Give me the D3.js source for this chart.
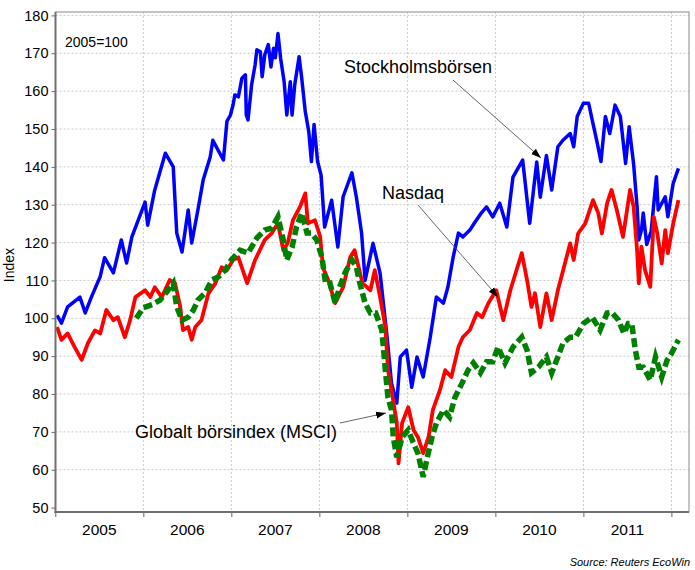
<!DOCTYPE html>
<html><head><meta charset="utf-8">
<script src="https://cdn.jsdelivr.net/npm/d3@7"></script>
<style>body{margin:0;background:#fff}svg{display:block;font-family:"Liberation Sans",Arial,sans-serif}</style>
</head><body><svg id="c" width="695" height="570"></svg>
<script>
// Decimal-year dates and index values (2005=100)
const stockT = [2005.02,2005.07,2005.14,2005.28,2005.34,2005.41,2005.51,2005.56,2005.66,2005.75,2005.81,2005.87,2006.02,2006.05,2006.13,2006.25,2006.34,2006.38,2006.44,2006.51,2006.55,2006.62,2006.68,2006.76,2006.79,2006.91,2006.95,2006.99,2007.02,2007.04,2007.08,2007.12,2007.16,2007.17,2007.19,2007.23,2007.27,2007.29,2007.33,2007.35,2007.38,2007.42,2007.45,2007.48,2007.50,2007.53,2007.56,2007.60,2007.63,2007.67,2007.69,2007.72,2007.77,2007.80,2007.84,2007.88,2007.91,2007.94,2007.98,2008.02,2008.06,2008.14,2008.21,2008.27,2008.37,2008.42,2008.48,2008.52,2008.61,2008.69,2008.77,2008.82,2008.88,2008.92,2008.99,2009.05,2009.11,2009.18,2009.26,2009.33,2009.41,2009.46,2009.52,2009.58,2009.63,2009.71,2009.76,2009.83,2009.90,2009.97,2010.05,2010.13,2010.20,2010.31,2010.39,2010.47,2010.51,2010.58,2010.64,2010.71,2010.77,2010.85,2010.89,2010.93,2011.00,2011.06,2011.10,2011.15,2011.20,2011.25,2011.30,2011.36,2011.42,2011.48,2011.52,2011.57,2011.61,2011.63,2011.66,2011.68,2011.72,2011.77,2011.83,2011.85,2011.93,2011.96,2012.02,2012.08];
const stockV = [100.8,98.7,103,105.6,101.4,105.6,111,116,112,120.7,114.6,121.5,130.7,124.6,133.9,143.6,140,122.5,117.5,128.6,119.9,128.6,136.5,142.6,147,141.8,152,153.7,156.4,159,158.5,163.4,164.3,153.7,152.4,161.6,166.9,170.9,170.4,163.8,169.6,172.3,166.4,171.3,168.8,175.2,168.7,162.5,153.7,162.5,153.7,161.6,169.1,163.4,154.6,149.3,141.4,151.2,141.4,137.8,124.1,131.2,118.8,132.1,138.4,132.1,122.5,110,119.8,111.9,95,82.8,77.6,89.8,91.6,81.8,89.8,84.5,95,105.6,104,108.2,116.1,122.5,121.5,123.3,125.1,127.5,129.4,126.8,130.4,124.1,137.3,141.8,125.1,141.3,132,143,133.9,145.3,147.1,148.8,145.3,153.3,156.8,156.8,152.4,147.1,141.4,153.3,148.8,156.3,153.3,140.9,150.6,140.9,129.5,120.7,123.3,127.8,119.5,123,137.4,128.6,132.1,126.8,135.6,139.6];

const nasdaqT = [2005.02,2005.07,2005.14,2005.22,2005.30,2005.37,2005.45,2005.51,2005.58,2005.66,2005.71,2005.79,2005.85,2005.91,2006.02,2006.08,2006.13,2006.21,2006.30,2006.36,2006.42,2006.45,2006.51,2006.55,2006.59,2006.66,2006.74,2006.82,2006.89,2006.95,2007.02,2007.08,2007.18,2007.27,2007.38,2007.46,2007.53,2007.59,2007.64,2007.70,2007.78,2007.84,2007.87,2007.95,2008.01,2008.04,2008.10,2008.18,2008.27,2008.35,2008.40,2008.49,2008.58,2008.63,2008.69,2008.75,2008.78,2008.82,2008.88,2008.90,2008.94,2009.01,2009.07,2009.12,2009.18,2009.24,2009.29,2009.37,2009.43,2009.50,2009.58,2009.63,2009.71,2009.79,2009.85,2009.92,2010.01,2010.09,2010.17,2010.24,2010.30,2010.36,2010.41,2010.45,2010.51,2010.58,2010.64,2010.71,2010.77,2010.85,2010.89,2010.94,2011.02,2011.11,2011.17,2011.21,2011.27,2011.32,2011.38,2011.45,2011.53,2011.57,2011.61,2011.63,2011.66,2011.70,2011.76,2011.80,2011.84,2011.89,2011.93,2011.96,2012.02,2012.08];
const nasdaqV = [97.7,94.3,96,92.4,89,93.4,96.8,96,102.2,99.5,100.3,95,99.5,105.6,107.4,105.6,108.2,105.6,110.1,109.3,103,96.9,97.7,94.3,97.7,99.5,106.6,109.3,113.5,112.7,115.4,116.1,109.3,115.4,120.7,122.5,125.1,118,119.8,125.9,129.4,133,125.1,125.9,121.5,113.5,110.1,104,108.2,116.1,118,109.3,107.4,112.7,105.6,97.7,86.3,81,72.3,61.7,72.3,76.5,70.5,68.6,64.4,68.6,75.8,81,86.3,84.5,92.4,95,96.9,101.4,100.3,104,107.4,99.5,107.4,112.7,117.2,110.1,103,106.6,97.7,106.6,99.5,107.4,112.7,119.8,115.4,122.4,125,131.2,127.7,122.4,130.4,133.9,128.6,121.5,133.9,129.5,118,109.2,118.9,112.8,108.3,126.8,122.4,114.5,123.3,117.2,125,131.2];

const msciT = [2005.92,2006.00,2006.10,2006.19,2006.28,2006.34,2006.38,2006.44,2006.51,2006.57,2006.62,2006.70,2006.78,2006.85,2006.93,2007.00,2007.10,2007.19,2007.29,2007.38,2007.46,2007.53,2007.59,2007.63,2007.69,2007.74,2007.80,2007.86,2007.91,2007.97,2008.03,2008.07,2008.12,2008.18,2008.23,2008.29,2008.37,2008.42,2008.46,2008.52,2008.58,2008.64,2008.71,2008.73,2008.75,2008.78,2008.82,2008.84,2008.88,2008.94,2009.01,2009.07,2009.12,2009.18,2009.22,2009.28,2009.33,2009.41,2009.48,2009.54,2009.62,2009.69,2009.75,2009.83,2009.90,2009.97,2010.03,2010.11,2010.20,2010.30,2010.36,2010.41,2010.49,2010.58,2010.64,2010.71,2010.77,2010.85,2010.91,2011.00,2011.10,2011.19,2011.27,2011.32,2011.40,2011.46,2011.51,2011.55,2011.59,2011.63,2011.68,2011.76,2011.82,2011.89,2011.95,2012.00,2012.08];
const msciV = [100,102.8,103.6,104.8,107.4,109.3,103,99.5,100.3,102.2,104.8,106.6,110.1,110.9,112.7,115.4,118,117.2,121.2,123.3,123.8,126.8,120.7,115.4,118.8,124.1,127.8,122.5,122.5,120.7,116.1,109.3,109.3,104,108.2,111.9,115.4,113.5,109.3,104,101.4,101.4,96.9,91.6,86.3,79.1,75.8,68.6,63.3,68.6,70.5,67,64.4,58.1,62.6,68.6,72.3,75.8,73.9,79.1,82.8,86.3,88.2,85.6,88.5,88.5,92.4,88.2,92.4,95,91.6,85.6,87.1,89.8,85.6,89.8,93.5,95,95,98.6,100.3,96.9,101.4,101.6,99.5,96,98.6,98.6,91.6,87.1,87.1,83.7,89.8,84.5,88.9,90.7,94.3];

const yearStarts = [2005,2006,2007,2008,2009,2010,2011,2012];
const yearLabels = ["2005","2006","2007","2008","2009","2010","2011"];
const yTicks = [50,60,70,80,90,100,110,120,130,140,150,160,170,180];

const svg = d3.select("#c");
const L = 55.5, R = 689, T = 12, B = 512;
const x = d3.scaleLinear().domain([2005, 2012.2]).range([55.3, 689]);
const y = d3.scaleLinear().domain([50, 180]).range([507.6, 15.4]);

// grid
const g = svg.append("g");
g.selectAll(".gy").data(yTicks.filter(v => v > 50)).join("line")
  .attr("x1", L).attr("x2", R).attr("y1", d => y(d)).attr("y2", d => y(d))
  .attr("stroke", "#c8c8c8").attr("stroke-dasharray", "2,2").attr("stroke-width", 1);
g.selectAll(".gx").data(yearStarts.slice(1)).join("line")
  .attr("x1", d => x(d)).attr("x2", d => x(d)).attr("y1", T).attr("y2", B)
  .attr("stroke", "#c8c8c8").attr("stroke-dasharray", "2,2").attr("stroke-width", 1);

// frame
svg.append("rect").attr("x", L).attr("y", T).attr("width", R - L).attr("height", B - T)
  .attr("fill", "none").attr("stroke", "#8a8a8a").attr("stroke-width", 1);

svg.append("clipPath").attr("id", "clip").append("rect")
  .attr("x", L).attr("y", T).attr("width", R - L).attr("height", B - T);

const line = d3.line().x(d => x(d[0])).y(d => y(d[1]));
const plot = svg.append("g").attr("clip-path", "url(#clip)");
plot.append("path").datum(d3.zip(stockT, stockV)).attr("d", line)
  .attr("fill", "none").attr("stroke", "#0000ff").attr("stroke-width", 3.5).attr("stroke-linejoin", "round");
plot.append("path").datum(d3.zip(nasdaqT, nasdaqV)).attr("d", line)
  .attr("fill", "none").attr("stroke", "#ff0000").attr("stroke-width", 3.8).attr("stroke-linejoin", "round");
plot.append("path").datum(d3.zip(msciT, msciV)).attr("d", line)
  .attr("fill", "none").attr("stroke", "#008000").attr("stroke-width", 5.5).attr("stroke-dasharray", "9,4");

// axes
const ax = svg.append("g").attr("transform", `translate(${L},0)`)
  .call(d3.axisLeft(y).tickValues(yTicks).tickSize(4).tickPadding(3).tickFormat(d3.format("d")));
ax.select(".domain").remove();
ax.selectAll("line").attr("stroke", "#666").attr("x2", -4);
ax.selectAll("text").attr("font-size", "14.5px").attr("fill", "#000")
  .attr("font-family", "Liberation Sans, Arial, sans-serif");

const bx = svg.append("g").attr("transform", `translate(0,${B})`)
  .call(d3.axisBottom(x).tickValues(yearStarts).tickSize(5).tickFormat(""));
bx.select(".domain").remove();
bx.selectAll("line").attr("stroke", "#666");

svg.append("line").attr("x1", L).attr("x2", L).attr("y1", T).attr("y2", B + 1)
  .attr("stroke", "#707070").attr("stroke-width", 2);
svg.append("line").attr("x1", L - 1).attr("x2", R).attr("y1", B).attr("y2", B)
  .attr("stroke", "#707070").attr("stroke-width", 2);

svg.selectAll(".yl").data(yearLabels).join("text")
  .attr("x", (d, i) => (x(yearStarts[i]) + x(yearStarts[i + 1])) / 2)
  .attr("y", 535).attr("text-anchor", "middle").attr("font-size", "15.5px").text(d => d);

// labels
svg.append("text").attr("transform", "translate(14,265) rotate(-90)")
  .attr("text-anchor", "middle").attr("font-size", "14px").text("Index");
svg.append("text").attr("x", 65).attr("y", 47).attr("font-size", "14px").text("2005=100");
svg.append("text").attr("x", 690).attr("y", 566).attr("text-anchor", "end")
  .attr("font-size", "11px").attr("font-style", "italic").text("Source: Reuters EcoWin");

// annotations
svg.append("defs").append("marker").attr("id", "ah").attr("viewBox", "0 0 10 10")
  .attr("refX", 10).attr("refY", 5).attr("markerWidth", 10).attr("markerHeight", 10)
  .attr("markerUnits", "userSpaceOnUse").attr("orient", "auto")
  .append("path").attr("d", "M0,1.5 L10,5 L0,8.5 Z").attr("fill", "#000");

const ann = [
  {t: "Stockholmsbörsen", tx: 344, ty: 73, x1: 453, y1: 80, x2: 541, y2: 158},
  {t: "Nasdaq", tx: 382, ty: 199, x1: 418, y1: 205, x2: 498, y2: 297},
  {t: "Globalt börsindex (MSCI)", tx: 135, ty: 438, x1: 340, y1: 423, x2: 386, y2: 413}
];
ann.forEach(a => {
  svg.append("text").attr("x", a.tx).attr("y", a.ty).attr("font-size", "18px").text(a.t);
  svg.append("line").attr("x1", a.x1).attr("y1", a.y1).attr("x2", a.x2).attr("y2", a.y2)
    .attr("stroke", "#555").attr("stroke-width", 0.9).attr("marker-end", "url(#ah)");
});
</script></body></html>
